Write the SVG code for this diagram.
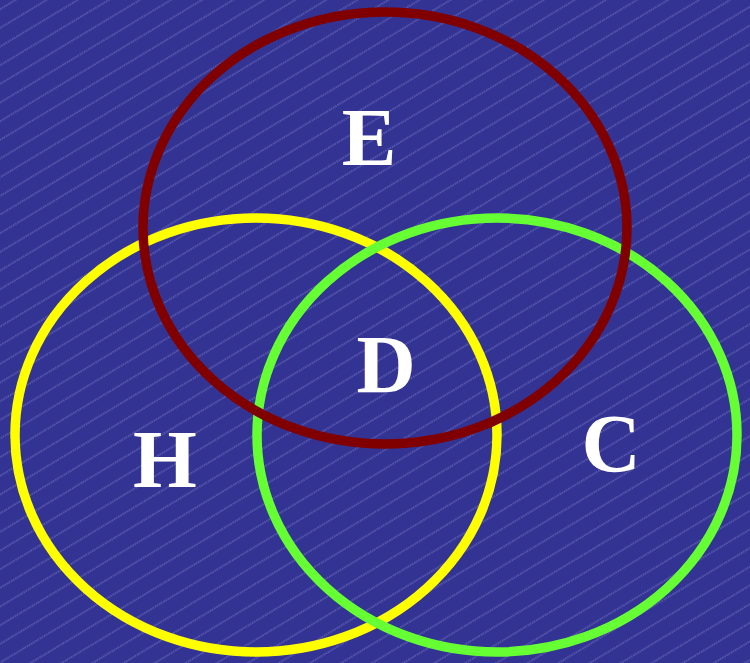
<svg xmlns="http://www.w3.org/2000/svg" width="750" height="663" viewBox="0 0 750 663">
  <defs>
    <pattern id="hatch" width="20" height="16" patternUnits="userSpaceOnUse" patternTransform="rotate(-31)">
      <line x1="0" y1="8" x2="20" y2="8" stroke="#a0a0dc" stroke-width="1" stroke-dasharray="1.5,1" opacity="0.7"/>
    </pattern>
  </defs>
  <style>
    .ring { fill: none; stroke-width: 9.5; }
    .lbl { font-family: "Liberation Serif", "Times New Roman", serif; font-weight: bold; font-size: 82px; fill: #ffffff; text-anchor: middle; }
  </style>
  <rect width="750" height="663" fill="#333394"/>
  <rect width="750" height="663" fill="url(#hatch)"/>
  <g id="H">
    <ellipse class="ring" cx="256" cy="435" rx="241" ry="217" stroke="#ffff00"/>
    <text class="lbl" x="165" y="487">H</text>
  </g>
  <g id="C">
    <ellipse class="ring" cx="497" cy="435" rx="240" ry="217" stroke="#66ff33"/>
    <text class="lbl" x="611" y="471">C</text>
  </g>
  <g id="E">
    <ellipse class="ring" cx="385" cy="228" rx="242" ry="216" stroke="#800000"/>
    <text class="lbl" x="369" y="165">E</text>
  </g>
  <g id="D">
    <text class="lbl" x="386" y="392">D</text>
  </g>
  <g id="connectors"/>
</svg>
